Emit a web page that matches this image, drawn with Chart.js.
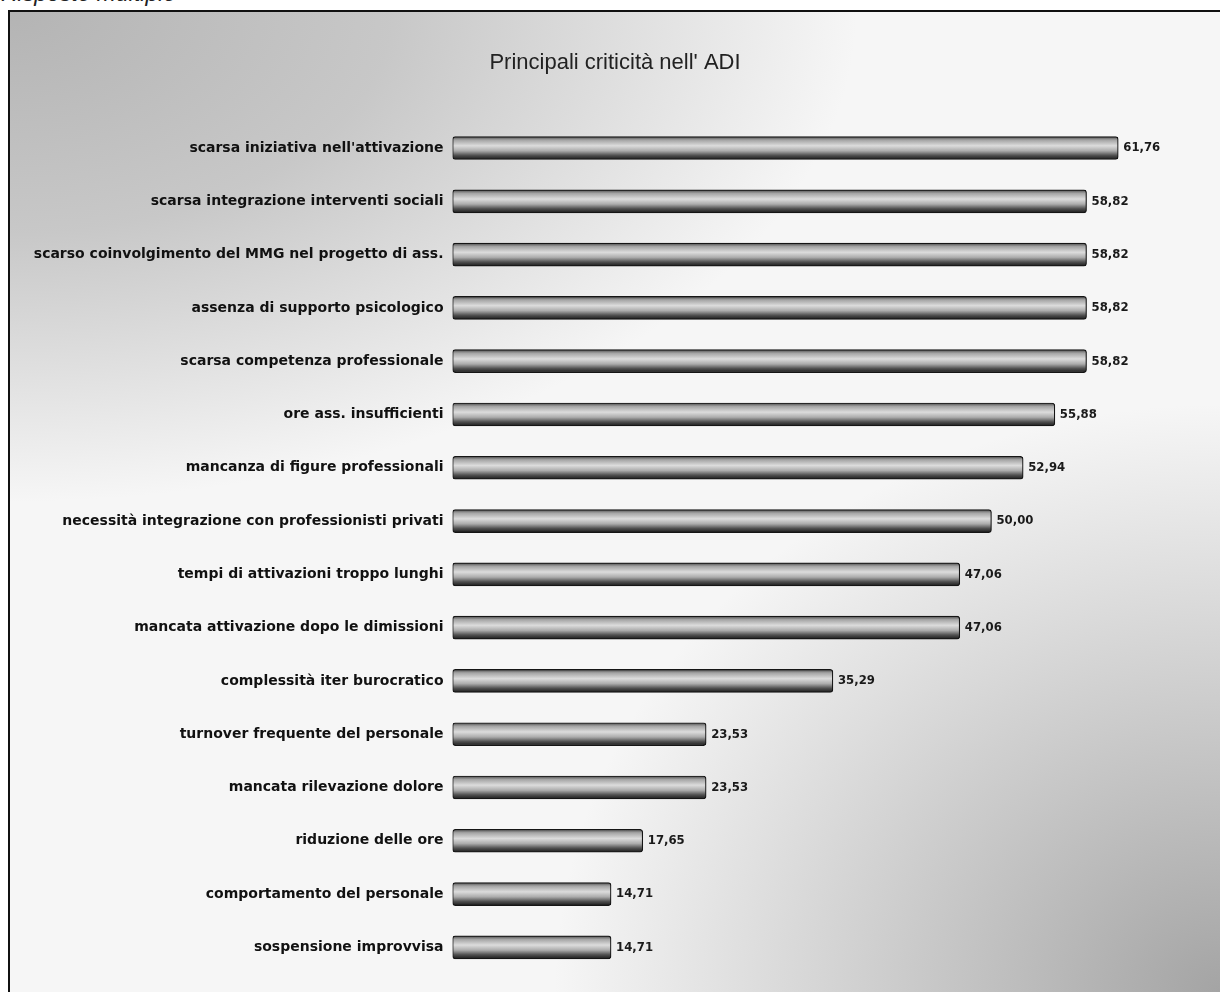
<!DOCTYPE html>
<html>
<head>
<meta charset="utf-8">
<script src="https://cdn.jsdelivr.net/npm/chart.js@4"></script>
<style>
  body { margin: 0; background: #fff; width: 1220px; height: 992px; overflow: hidden; position: relative; }
  #note { position: absolute; left: 1px; top: -20px; font: italic 23px "Liberation Sans", Arial, sans-serif; color: #222; }
  #frame {
    position: absolute; left: 8px; top: 10px; width: 1210px; height: 980px;
    border-left: 2px solid #111; border-top: 2px solid #111;
    background:
      radial-gradient(ellipse 55% 60% at 100% 100%, #a4a4a4 0%, rgba(164,164,164,0) 100%),
      radial-gradient(ellipse 70% 50% at 0% 0%, #b4b4b4 0%, rgba(180,180,180,0.7) 45%, rgba(180,180,180,0) 100%),
      #f6f6f6;
  }
  canvas { display: block; }
</style>
</head>
<body>
<div id="note">Risposte multiple</div>
<div id="frame"><canvas id="adi" width="1210" height="980"></canvas></div>
<script>
const categories = [
  'scarsa iniziativa nell\'attivazione',
  'scarsa integrazione interventi sociali',
  'scarso coinvolgimento del MMG nel progetto di ass.',
  'assenza di supporto psicologico',
  'scarsa competenza professionale',
  'ore ass. insufficienti',
  'mancanza di figure professionali',
  'necessità integrazione con professionisti privati',
  'tempi di attivazioni troppo lunghi',
  'mancata attivazione dopo le dimissioni',
  'complessità iter burocratico',
  'turnover frequente del personale',
  'mancata rilevazione dolore',
  'riduzione delle ore',
  'comportamento del personale',
  'sospensione improvvisa'
];
const percentages = [61.76, 58.82, 58.82, 58.82, 58.82, 55.88, 52.94, 50.00, 47.06, 47.06, 35.29, 23.53, 23.53, 17.65, 14.71, 14.71];

const barHalf = 11.5;

// cylinder-like shading, one gradient per bar
function barShade(c) {
  const ya = c.chart.scales.y;
  if (!ya || c.type !== 'data') return '#b0b0b0';
  const y = ya.getPixelForValue(c.dataIndex);
  if (!isFinite(y)) return '#b0b0b0';
  const g = c.chart.ctx.createLinearGradient(0, y - barHalf, 0, y + barHalf);
  g.addColorStop(0, '#4a4a4a');
  g.addColorStop(0.15, '#a4a4a4');
  g.addColorStop(0.4, '#dcdcdc');
  g.addColorStop(0.62, '#acacac');
  g.addColorStop(0.82, '#505050');
  g.addColorStop(1, '#1a1a1a');
  return g;
}

const valueLabels = {
  id: 'valueLabels',
  afterDatasetsDraw(chart) {
    const ctx = chart.ctx;
    const meta = chart.getDatasetMeta(0);
    ctx.save();
    ctx.font = 'bold 13px "DejaVu Sans Condensed", "DejaVu Sans", sans-serif';
    ctx.fillStyle = '#1a1a1a';
    ctx.textBaseline = 'middle';
    meta.data.forEach((bar, i) => {
      ctx.fillText(percentages[i].toFixed(2).replace('.', ','), bar.x + 5, bar.y);
    });
    ctx.restore();
  }
};

new Chart(document.getElementById('adi'), {
  type: 'bar',
  data: {
    labels: categories,
    datasets: [{
      data: percentages,
      backgroundColor: barShade,
      borderColor: '#151515',
      borderWidth: 1.2,
      borderRadius: 3,
      borderSkipped: false,
      barThickness: 23
    }]
  },
  options: {
    indexAxis: 'y',
    responsive: false,
    animation: false,
    layout: { padding: { left: 0, right: 0, top: 0, bottom: 18 } },
    plugins: {
      legend: { display: false },
      tooltip: { enabled: false },
      title: {
        display: true,
        text: 'Principali criticità nell\' ADI',
        color: '#222',
        font: { family: '"Liberation Sans", Arial, sans-serif', size: 22, weight: 'normal' },
        padding: { top: 38, bottom: 45 }
      }
    },
    scales: {
      x: { display: false, min: 0, max: 71.2 },
      y: {
        grid: { display: false, drawTicks: false },
        border: { display: false },
        afterFit: s => { s.width = 442.5; },
        ticks: {
          padding: 9,
          color: '#111',
          font: { family: '"DejaVu Sans", sans-serif', size: 14, weight: 'bold' }
        }
      }
    }
  },
  plugins: [valueLabels]
});
</script>
</body>
</html>
